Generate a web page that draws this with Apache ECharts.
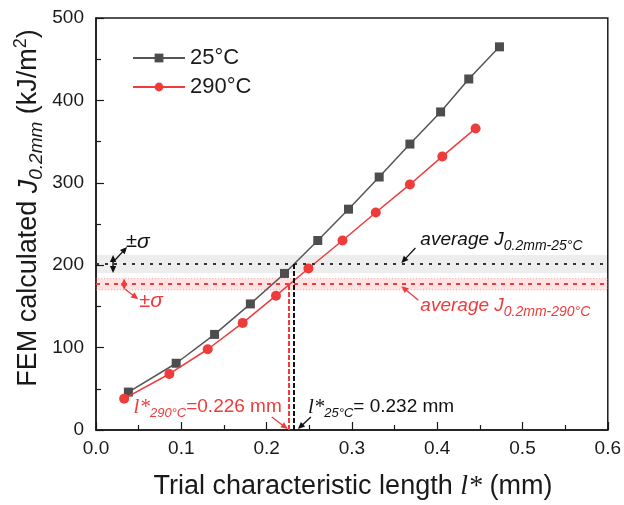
<!DOCTYPE html>
<html>
<head>
<meta charset="utf-8">
<script src="https://cdn.jsdelivr.net/npm/echarts@6/dist/echarts.min.js"></script>
<style>
  html, body { margin: 0; padding: 0; background: #fff; }
  #chart { width: 624px; height: 505px; }
</style>
</head>
<body>
<div id="chart"></div>
<script>
// Trial characteristic length l* (mm) and FEM-calculated J at 0.2 mm (kJ/m^2)
const length25 = [0.038, 0.094, 0.139, 0.181, 0.221, 0.260, 0.296, 0.332, 0.368, 0.404, 0.437, 0.473];
const jCalc25  = [46, 81, 116, 153, 190, 230, 268, 307, 347, 386, 426, 465];
const length290 = [0.033, 0.086, 0.131, 0.172, 0.211, 0.249, 0.289, 0.328, 0.368, 0.406, 0.445];
const jCalc290  = [38, 68, 98, 130, 163, 196, 230, 264, 298, 332, 366];

// Averaged J_0.2mm with its scatter band, and the resulting l*
const avgJ25 = 201.5, sigma25 = 11;
const avgJ290 = 177, sigma290 = 7;
const lStar25 = 0.232, lStar290 = 0.226;

const seriesNames = ['25°C', '290°C'];
const xTickLabels = ['0.0', '0.1', '0.2', '0.3', '0.4', '0.5', '0.6'];
const yTickLabels = ['0', '100', '200', '300', '400', '500'];

const SANS = '"Liberation Sans", Arial, sans-serif';
const SERIF = '"Liberation Serif", "Times New Roman", serif';
const INK = '#1a1a1a';
const GREY = '#4d4d4d';
const RED = '#ee3b3b';

const pairs = (xs, ys) => xs.map((x, i) => [x, ys[i]]);

const chart = echarts.init(document.getElementById('chart'), null, { renderer: 'canvas' });

const axisCommon = {
  axisLine: { lineStyle: { color: INK, width: 1.5 } },
  axisTick: { inside: true, length: 8, lineStyle: { color: INK, width: 1.2 } },
  minorTick: { show: true, splitNumber: 2, length: 5, lineStyle: { color: INK, width: 1.2 } },
  splitLine: { show: false }
};

const option = {
  animation: false,
  backgroundColor: '#fff',
  grid: { left: 96, right: 15, top: 18, bottom: 75, show: true, borderColor: INK, borderWidth: 1.5, backgroundColor: 'transparent' },
  xAxis: Object.assign({
    type: 'value', min: 0, max: 0.6, interval: 0.1,
    axisLabel: { formatter: (v) => xTickLabels[Math.round(v * 10)], fontSize: 19, fontFamily: SANS, color: INK, margin: 9 }
  }, axisCommon),
  yAxis: Object.assign({
    type: 'value', min: 0, max: 500, interval: 100,
    axisLabel: { formatter: (v) => yTickLabels[Math.round(v / 100)], fontSize: 19, fontFamily: SANS, color: INK, margin: 12 }
  }, axisCommon),
  legend: {
    left: 132, top: 47, padding: 0, orient: 'vertical', itemWidth: 52, itemHeight: 11, itemGap: 7,
    textStyle: { fontSize: 22, fontFamily: SANS, color: INK },
    data: seriesNames
  },
  series: [
    {
      // bands and reference lines
      type: 'line', data: [], silent: true, z: 1,
      markArea: {
        silent: true,
        data: [
          [{ yAxis: avgJ25 - sigma25, itemStyle: { color: 'rgba(0,0,0,0.07)' } }, { yAxis: avgJ25 + sigma25 }],
          [{ yAxis: avgJ290 - sigma290, itemStyle: { color: 'rgba(255,60,60,0.15)', borderColor: 'rgba(240,120,120,0.6)', borderWidth: 1, borderType: [1, 2] } }, { yAxis: avgJ290 + sigma290 }]
        ]
      },
      markLine: {
        silent: true, symbol: ['none', 'none'], label: { show: false },
        data: [
          { yAxis: avgJ25, lineStyle: { color: '#333', width: 2, type: [3, 6] } },
          { yAxis: avgJ290, lineStyle: { color: RED, width: 2, type: [4, 5] } },
          [{ coord: [lStar290, 0], lineStyle: { color: RED, width: 2, type: [5, 2] } }, { coord: [lStar290, avgJ290] }],
          [{ coord: [lStar25, 0], lineStyle: { color: '#111', width: 2, type: [5, 2] } }, { coord: [lStar25, avgJ25] }]
        ]
      }
    },
    {
      name: seriesNames[0], type: 'line', z: 3,
      data: pairs(length25, jCalc25),
      symbol: 'rect', symbolSize: 9,
      itemStyle: { color: GREY },
      lineStyle: { color: '#555', width: 1.5 }
    },
    {
      name: seriesNames[1], type: 'line', z: 4,
      data: pairs(length290, jCalc290),
      symbol: 'circle', symbolSize: 10,
      itemStyle: { color: RED },
      lineStyle: { color: RED, width: 1.5 }
    }
  ]
};

chart.setOption(option);

// ---- annotations, anchored on data coordinates ----
const P = (x, y) => chart.convertToPixel({ gridIndex: 0 }, [x, y]);

function arrow(x1, y1, x2, y2, color, lw, both) {
  const L = 7, W = 3.2;
  const a = Math.atan2(y2 - y1, x2 - x1);
  const ca = Math.cos(a), sa = Math.sin(a);
  const head = (x, y, dir) => {
    const c = ca * dir, s = sa * dir;
    const bx = x - L * c, by = y - L * s;
    return { type: 'polygon', silent: true, z: 30,
      shape: { points: [[x, y], [bx - W * s, by + W * c], [bx + W * s, by - W * c]] },
      style: { fill: color } };
  };
  const sx = both ? x1 + (L - 1) * ca : x1, sy = both ? y1 + (L - 1) * sa : y1;
  const els = [
    { type: 'line', silent: true, z: 29,
      shape: { x1: sx, y1: sy, x2: x2 - (L - 1) * ca, y2: y2 - (L - 1) * sa },
      style: { stroke: color, lineWidth: lw } },
    head(x2, y2, 1)
  ];
  if (both) els.push(head(x1, y1, -1));
  return els;
}

function label(x, y, text, rich, align, extra) {
  return Object.assign({
    type: 'text', silent: true, z: 30, x: x, y: y,
    style: { text: text, rich: rich, align: align || 'left', verticalAlign: 'middle', fill: INK, font: '19px ' + SANS }
  }, extra || {});
}

const graphics = [];

// +/- sigma markers on the left
const b25t = P(0.02, avgJ25 + sigma25), b25b = P(0.02, avgJ25 - sigma25), b25m = P(0.02, avgJ25);
graphics.push(...arrow(b25b[0], b25b[1], b25t[0], b25t[1], '#111', 1.5, true));
graphics.push(...arrow(b25m[0] + 2, b25m[1] - 4, b25m[0] + 14, b25m[1] - 17, '#111', 1.3, false));
graphics.push(label(b25m[0] + 13, b25m[1] - 22, '{n|±}{g|σ}', {
  n: { font: '20px ' + SANS, fill: '#111' }, g: { font: 'italic 21px ' + SANS, fill: '#111' }
}));

const b290t = P(0.033, avgJ290 + sigma290), b290b = P(0.033, avgJ290 - sigma290), b290m = P(0.033, avgJ290);
graphics.push(...arrow(b290b[0], b290b[1], b290t[0], b290t[1], RED, 2.2, true));
graphics.push(...arrow(b290m[0] + 1, b290m[1] + 5, b290m[0] + 14, b290m[1] + 15, RED, 1.3, false));
graphics.push(label(b290m[0] + 15, b290m[1] + 17, '{n|±}{g|σ}', {
  n: { font: '20px ' + SANS, fill: RED }, g: { font: 'italic 21px ' + SANS, fill: RED }
}));

// average J labels on the right
const subRich = (color) => ({
  m: { font: 'italic 19px ' + SANS, fill: color },
  s: { font: 'italic 14px ' + SANS, fill: color, padding: [12, 0, 0, 0] }
});
const a25 = P(0.358, avgJ25);
graphics.push(...arrow(a25[0] + 14, a25[1] - 16, a25[0], a25[1] - 1, '#111', 1.3, false));
graphics.push(label(a25[0] + 19, a25[1] - 24, '{m|average J}{s|0.2mm-25°C}', subRich('#111')));

const a290 = P(0.358, avgJ290);
graphics.push(...arrow(a290[0] + 17, a290[1] + 16, a290[0], a290[1] + 2, RED, 1.3, false));
graphics.push(label(a290[0] + 19, a290[1] + 22, '{m|average J}{s|0.2mm-290°C}', subRich(RED)));

// l* results at the bottom
const lRich = (color) => ({
  l: { font: 'italic 21px ' + SERIF, fill: color },
  s: { font: 'italic 13px ' + SANS, fill: color, padding: [12, 0, 0, 0] },
  n: { font: '19px ' + SANS, fill: color }
});
const x290 = P(lStar290, 0), x25 = P(lStar25, 0);
graphics.push(...arrow(x290[0] - 17, x290[1] - 13, x290[0] - 1, x290[1] - 1, RED, 1.3, false));
graphics.push(label(x290[0] - 7, x290[1] - 23, '{l|l*}{s|290°C}{n|=0.226 mm}', lRich(RED), 'right'));
graphics.push(...arrow(x25[0] + 17, x25[1] - 13, x25[0] + 4, x25[1] - 1, '#111', 1.3, false));
graphics.push(label(x25[0] + 14, x25[1] - 23, '{l|l*}{s|25°C}{n|= 0.232 mm}', lRich('#111'), 'left'));

// axis titles
graphics.push(label(353, 487, '{n|Trial characteristic length }{l|l*}{n| (mm)}', {
  n: { font: '27px ' + SANS, fill: INK }, l: { font: 'italic 28px ' + SERIF, fill: INK }
}, 'center'));
graphics.push(label(29, 208, '{n|FEM calculated }{i|J}{s|0.2mm}{n| (kJ/m}{p|2}{n|)}', {
  n: { font: '27px ' + SANS, fill: INK },
  i: { font: 'italic 27px ' + SANS, fill: INK },
  s: { font: 'italic 19px ' + SANS, fill: INK, padding: [15, 0, 0, 0] },
  p: { font: '18px ' + SANS, fill: INK, padding: [0, 0, 15, 0] }
}, 'center', { rotation: Math.PI / 2 }));

chart.setOption({ graphic: { elements: graphics } });
</script>
</body>
</html>
